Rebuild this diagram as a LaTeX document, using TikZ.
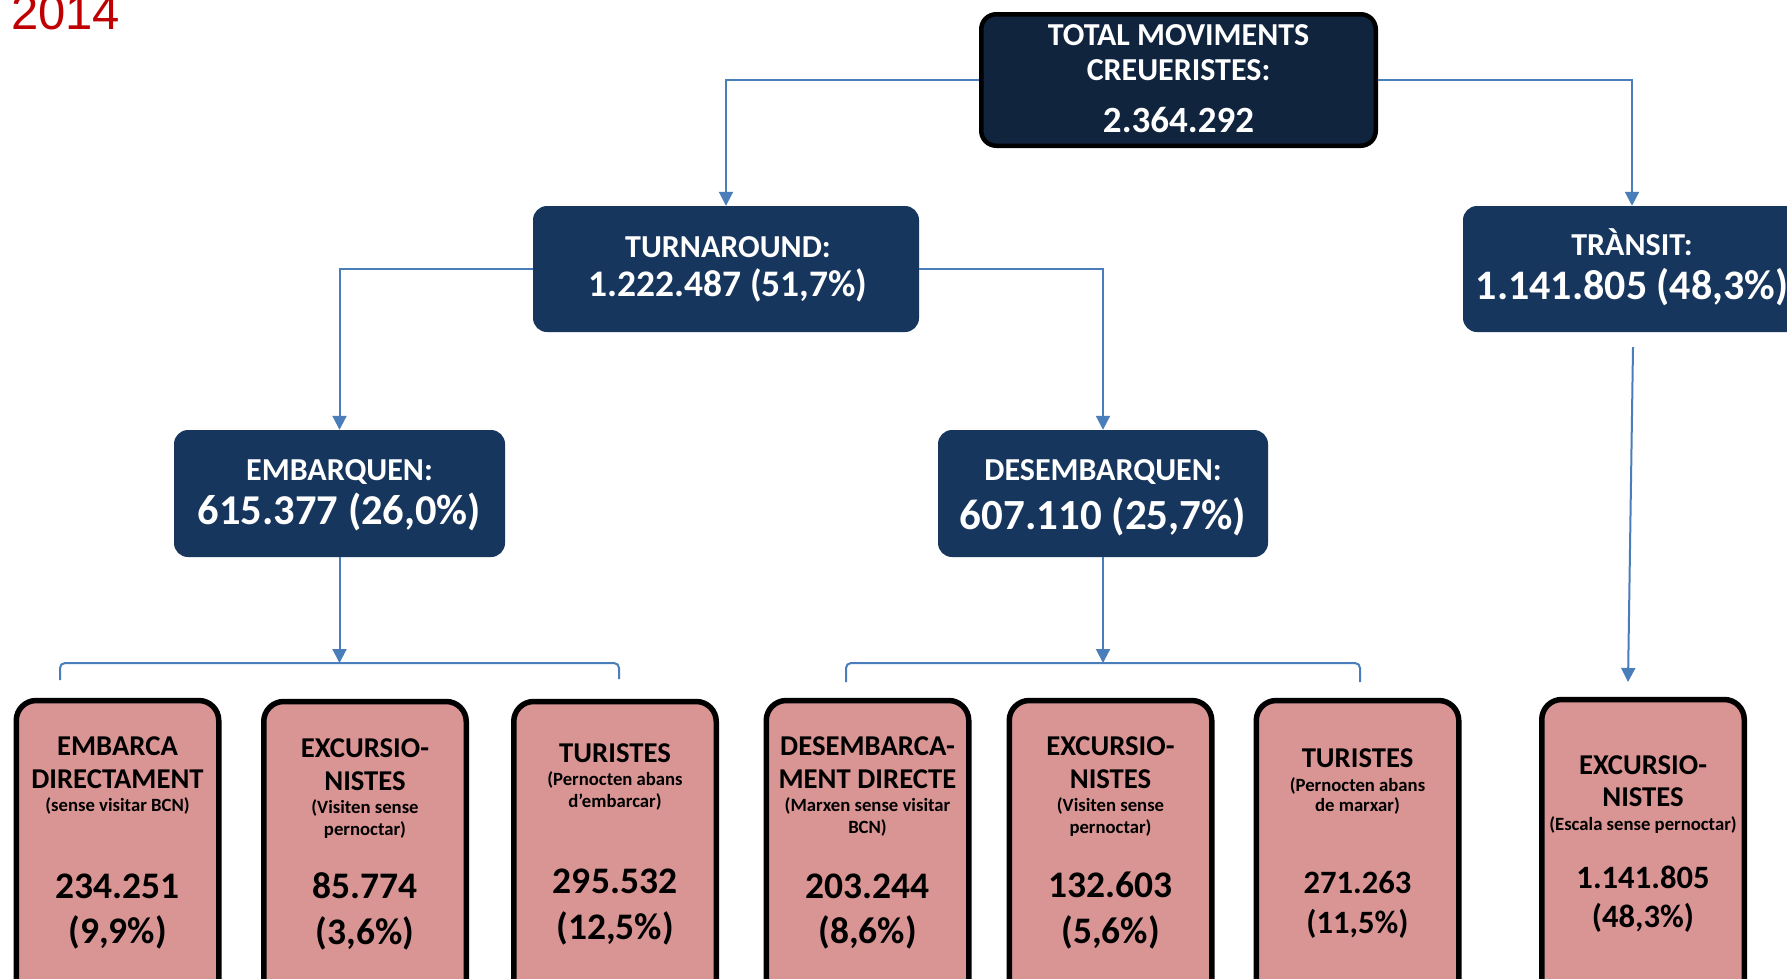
\documentclass[tikz,border=0pt]{standalone}
\usepackage{fontspec}
\setmainfont{Carlito}
\newfontfamily\arialfont{Liberation Sans}
\usetikzlibrary{arrows.meta}
\definecolor{navyA}{HTML}{10243E}
\definecolor{navyB}{HTML}{17365D}
\definecolor{pinkbox}{HTML}{D99594}
\definecolor{conncol}{HTML}{4A7EBB}
\definecolor{redyear}{HTML}{C00000}
\newcommand{\fs}[1]{\fontsize{#1}{#1}\selectfont}
\tikzset{
  navybox/.style={fill=navyB, draw=none, rounded corners=14pt, inner sep=0pt},
  totalbox/.style={fill=navyA, draw=black, line width=4.5pt, rounded corners=15pt, inner sep=0pt},
  pinkcard/.style={fill=pinkbox, draw=black, line width=5.5pt, rounded corners=20pt, inner sep=0pt,
     minimum width=202.5pt, minimum height=320pt, anchor=north},
  wtxt/.style={text=white, font=\bfseries, anchor=base, inner sep=0pt},
  btxt/.style={text=black, font=\bfseries, anchor=base, inner sep=0pt},
  hd/.style={font=\bfseries\fs{28.7}},
  sm/.style={font=\bfseries\fs{18.7}},
  bignum/.style={font=\bfseries\fs{37.5}},
  midnum/.style={font=\bfseries\fs{32.6}},
  conn/.style={draw=conncol, line width=2pt},
  arr/.style={conn, -{Triangle[width=14pt,length=14pt]}},
}
\begin{document}
\begin{tikzpicture}[x=1pt,y=-1pt]
\clip (0,0) rectangle (1787,978);
\fill[white] (0,0) rectangle (1787,978);

% year
\node[anchor=base west, inner sep=0pt, text=redyear, font=\arialfont\fs{49}] (year) at (11,29) {2014};

% total
\node[totalbox, minimum width=394.5pt, minimum height=131.5pt] (total) at (1178.5,80) {};
\node[wtxt, font=\bfseries\fs{32}] (totA) at (1178.5,45) {TOTAL MOVIMENTS};
\node[wtxt, font=\bfseries\fs{32}] (totB) at (1178.5,80) {CREUERISTES:};
\node[wtxt, font=\bfseries\fs{37}] (totC) at (1178.5,132) {2.364.292};

% turnaround
\node[navybox, minimum width=386pt, minimum height=126pt] (turn) at (726,269) {};
\node[wtxt, font=\bfseries\fs{32}] (turnA) at (728,257) {TURNAROUND:};
\node[wtxt, font=\bfseries\fs{37.5}] (turnB) at (728,296) {1.222.487 (51,7\%)};

% transit
\node[navybox, minimum width=338pt, minimum height=126pt] (trans) at (1632,269) {};
\node[wtxt, font=\bfseries\fs{32}] (transA) at (1632,255) {TRÀNSIT:};
\node[wtxt, font=\bfseries\fs{42}] (transB) at (1632,299) {1.141.805 (48,3\%)};

% embarquen
\node[navybox, minimum width=331pt, minimum height=127pt] (emb) at (339.5,493.5) {};
\node[wtxt, font=\bfseries\fs{32}] (embA) at (339.5,480) {EMBARQUEN:};
\node[wtxt, font=\bfseries\fs{42.5}] (embB) at (339.5,524) {615.377 (26,0\%)};

% desembarquen
\node[navybox, minimum width=330pt, minimum height=127pt] (des) at (1103,493.5) {};
\node[wtxt, font=\bfseries\fs{32}] (desA) at (1103,480) {DESEMBARQUEN:};
\node[wtxt, font=\bfseries\fs{43}] (desB) at (1103,529) {607.110 (25,7\%)};

% bottom cards
\node[pinkcard] (c1) at (117.5,697.75) {};
\node[pinkcard] (c2) at (365,698.75) {};
\node[pinkcard] (c3) at (615,698.75) {};
\node[pinkcard] (c4) at (867.5,697.75) {};
\node[pinkcard] (c5) at (1110.5,697.75) {};
\node[pinkcard] (c6) at (1357.5,697.75) {};
\node[pinkcard] (c7) at (1643,696.75) {};

% card 1
\node[btxt, hd] (c1a) at (117.5,755) {EMBARCA};
\node[btxt, hd] (c1b) at (117.5,788) {DIRECTAMENT};
\node[btxt, sm] (c1c) at (117.5,811) {(sense visitar BCN)};
\node[btxt, bignum] (c1d) at (117.5,898) {234.251};
\node[btxt, bignum] (c1e) at (117.5,943) {(9,9\%)};

% card 2
\node[btxt, hd] (c2a) at (365,757) {EXCURSIO-};
\node[btxt, hd] (c2b) at (365,790) {NISTES};
\node[btxt, sm] (c2c) at (365,813) {(Visiten sense};
\node[btxt, sm] (c2d) at (365,835) {pernoctar)};
\node[btxt, bignum] (c2e) at (365,898) {85.774};
\node[btxt, bignum] (c2f) at (365,944) {(3,6\%)};

% card 3
\node[btxt, hd] (c3a) at (615,762) {TURISTES};
\node[btxt, sm] (c3b) at (615,785) {(Pernocten abans};
\node[btxt, sm] (c3c) at (615,807) {d’embarcar)};
\node[btxt, bignum] (c3d) at (615,893) {295.532};
\node[btxt, bignum] (c3e) at (615,939) {(12,5\%)};

% card 4
\node[btxt, hd] (c4a) at (867.5,755) {DESEMBARCA-};
\node[btxt, hd] (c4b) at (867.5,788) {MENT DIRECTE};
\node[btxt, sm] (c4c) at (867.5,811) {(Marxen sense visitar};
\node[btxt, sm] (c4d) at (867.5,833) {BCN)};
\node[btxt, bignum] (c4e) at (867.5,898) {203.244};
\node[btxt, bignum] (c4f) at (867.5,943) {(8,6\%)};

% card 5
\node[btxt, hd] (c5a) at (1110.5,755) {EXCURSIO-};
\node[btxt, hd] (c5b) at (1110.5,788) {NISTES};
\node[btxt, sm] (c5c) at (1110.5,811) {(Visiten sense};
\node[btxt, sm] (c5d) at (1110.5,833) {pernoctar)};
\node[btxt, bignum] (c5e) at (1110.5,897) {132.603};
\node[btxt, bignum] (c5f) at (1110.5,943) {(5,6\%)};

% card 6
\node[btxt, hd] (c6a) at (1357.5,767) {TURISTES};
\node[btxt, sm] (c6b) at (1357.5,791) {(Pernocten abans};
\node[btxt, sm] (c6c) at (1357.5,811) {de marxar)};
\node[btxt, midnum] (c6d) at (1357.5,893) {271.263};
\node[btxt, midnum] (c6e) at (1357.5,933) {(11,5\%)};

% card 7
\node[btxt, hd] (c7a) at (1643,774) {EXCURSIO-};
\node[btxt, hd] (c7b) at (1643,806) {NISTES};
\node[btxt, sm] (c7c) at (1643,830) {(Escala sense pernoctar)};
\node[btxt, midnum] (c7d) at (1643,888) {1.141.805};
\node[btxt, midnum] (c7e) at (1643,927) {(48,3\%)};

% connectors
\draw[arr] (total.west) -| (turn.north);
\draw[arr] (total.east) -| (trans.north);
\draw[arr] (turn.west) -| (emb.north);
\draw[arr] (turn.east) -| (des.north);

\coordinate (embbr) at (339.5,663);
\coordinate (desbr) at (1103,663);
\draw[arr] (emb.south) -- (embbr);
\draw[arr] (des.south) -- (desbr);

\coordinate (b1l) at (60,680);
\coordinate (b1r) at (619,679);
\coordinate (b2l) at (846,682);
\coordinate (b2r) at (1360,682);
\draw[conn, rounded corners=5pt] (b1l) |- (embbr) -| (b1r);
\draw[conn, rounded corners=5pt] (b2l) |- (desbr) -| (b2r);

\coordinate (trs) at (1633,347);
\coordinate (tre) at (1628,682);
\draw[arr] (trs) -- (tre);
\end{tikzpicture}
\end{document}
